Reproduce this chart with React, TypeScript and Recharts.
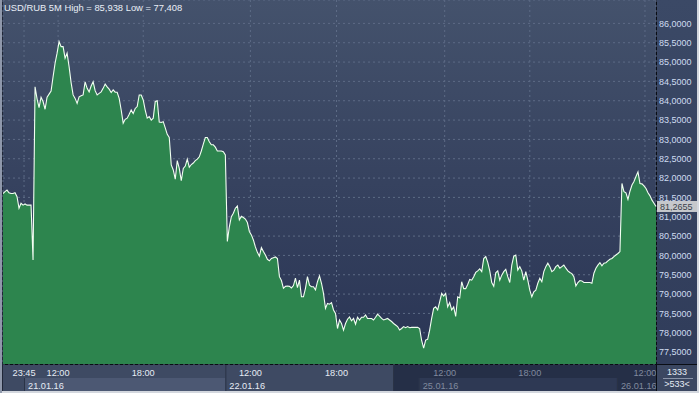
import { AreaChart, Area, XAxis, YAxis, CartesianGrid, ReferenceLine } from "recharts";

// USD/RUB 5-minute closes, one value per slot
const jan21 = [
  81.6, 81.65, 81.69, 81.62, 81.6, 81.6, 81.62, 81.52, 81.22, 81.35,
  81.3, 81.33, 81.3, 81.3, 81.3, 79.88, 84.36, 84.05, 83.82, 84.09,
  83.98, 83.78, 84.09, 84.17, 84.25, 84.62, 84.97, 85.23, 85.53, 85.4,
  85.4, 85.1, 85.23, 84.88, 84.47, 84.15, 84.06, 83.93, 84.1, 84.13,
  84.15, 84.49, 84.32, 84.23, 84.38, 84.49, 84.26, 84.15, 84.19, 84.23,
  84.32, 84.43, 84.36, 84.3,
  84.21, 84.28, 84.22, 84.22, 84.06, 83.76, 83.42, 83.52, 83.55, 83.65,
  83.76, 83.67, 83.8, 83.85, 84.15, 84.15, 84.02, 83.76, 83.55, 83.59,
  83.5, 83.55, 83.98, 84.0, 83.45, 83.44, 83.46, 83.3, 83.13, 83.05,
  82.34, 82.21, 81.97, 82.45, 82.25, 81.93, 82.25, 82.31, 82.49, 82.28,
  82.35, 82.39, 82.45, 82.49, 82.55, 82.7, 82.88, 83.05, 83.05, 82.94,
  82.86, 82.86, 82.8, 82.7, 82.7, 82.7, 82.68, 82.6,
];

const jan22 = [
  80.36, 80.74, 81.0, 81.09, 81.22, 81.28, 80.92, 81.01, 80.98, 80.94,
  80.85, 80.62, 80.53, 80.4, 80.22, 80.08, 79.98, 80.2, 80.1, 80.01,
  79.9, 79.86, 79.92, 79.94, 79.96, 79.92, 79.45, 79.35, 79.15, 79.2,
  79.21, 79.2, 79.16, 79.22, 79.41, 79.17, 79.36, 78.93, 78.93, 79.15,
  79.45, 79.23, 79.19, 79.19, 79.11, 79.32, 79.47, 79.28, 79.02, 78.63,
  78.76, 78.74, 78.78, 78.59, 78.5, 78.11, 78.33, 78.24, 78.07, 78.24,
  78.35, 78.41, 78.31, 78.37, 78.22, 78.4, 78.33, 78.4, 78.4, 78.46,
  78.37, 78.37, 78.37, 78.33, 78.4, 78.48, 78.43, 78.37, 78.33, 78.35,
  78.37, 78.33, 78.29, 78.24, 78.2, 78.16, 78.07, 78.11, 78.16, 78.13,
  78.16, 78.13, 78.14, 78.14, 78.14, 78.14, 78.11,
];

const jan25 = [
  77.8, 77.6, 77.81, 77.83, 78.07, 78.37, 78.63, 78.67, 78.59, 78.8,
  79.02, 78.95, 79.02, 78.67, 78.78, 78.59, 78.67, 78.42, 78.93, 78.9,
  79.32, 79.14, 79.14, 79.25, 79.38, 79.36, 79.45, 79.56, 79.6, 79.65,
  79.58, 79.92, 79.97, 79.82, 79.6, 79.3, 79.2, 79.55, 79.6, 79.36,
  79.49, 79.58, 79.64, 79.45, 79.3, 79.75, 79.98, 80.01, 79.62, 79.71,
  79.6, 79.36, 79.58, 79.36, 79.1, 78.93, 79.06, 79.1, 79.28, 79.41,
  79.32, 79.58, 79.71, 79.8, 79.71, 79.58, 79.62, 79.71, 79.75, 79.67,
  79.71, 79.75, 79.67, 79.6, 79.56, 79.53, 79.45, 79.21, 79.3, 79.35,
  79.34, 79.3, 79.3, 79.3, 79.3, 79.28, 79.54, 79.67, 79.75, 79.81,
  79.73, 79.8, 79.81, 79.86, 79.9, 79.92, 79.97, 80.01, 80.05, 80.1,
];

const jan26 = [
  81.86, 81.65, 81.62, 81.45, 81.66, 81.82, 81.91, 82.04, 82.16, 81.86,
  81.85, 81.8, 81.73, 81.62, 81.54, 81.43, 81.35, 81.2655,
];

const prices = [...jan21, ...jan22, ...jan25, ...jan26];
const data = prices.map((price, slot) => ({ slot, price }));

const timeTicks = [10.5, 27.5, 70, 123.5, 166.5, 220.5, 263, 320.5];
const timeLabels = ["23:45", "12:00", "18:00", "12:00", "18:00", "12:00", "18:00", "12:00"];
const dayTicks = [10.5, 111, 207.5, 306.5];
const dayEnds = [111, 194.7, 306.5, 326];
const dayLabels = ["21.01.16", "22.01.16", "25.01.16", "26.01.16"];
const weekSplit = 194.7;
const priceTicks = [77.5, 78, 78.5, 79, 79.5, 80, 80.5, 81, 81.5, 82, 82.5, 83, 83.5, 84, 84.5, 85, 85.5, 86];
const lastPrice = 81.2655;
const title = "USD/RUB 5M High = 85,938 Low = 77,408";
const barCount = "1333";
const visibleBars = ">533<";

const FONT = "'Liberation Sans', Arial, sans-serif";
const PX = 653 / 326;
const fmt = (v: number) => v.toFixed(4).replace(".", ",");

const TimeTick = (props: any) => {
  const i = timeTicks.indexOf(props.payload.value);
  if (i < 0) return null;
  const dark = timeTicks[i] > weekSplit;
  return (
    <text x={props.x} y={376} textAnchor="middle" fontSize={9.2} fontFamily={FONT}
      fill={dark ? "#808a9e" : "#e6ecf5"} clipPath="url(#axisClip)">
      {timeLabels[i]}
    </text>
  );
};

const DayTick = (props: any) => {
  const i = dayTicks.indexOf(props.payload.value);
  if (i < 0) return null;
  const x = props.x;
  const dark = dayTicks[i] > weekSplit;
  const w = (dayEnds[i] - dayTicks[i]) * PX;
  return (
    <g clipPath="url(#axisClip)">
      {i % 2 === 0 && <rect x={x} y={378} width={w} height={13} fill={dark ? "#2e3954" : "#4c5873"} />}
      <line x1={x + 0.5} x2={x + 0.5} y1={i === 1 ? 365 : 378} y2={391} stroke="#2a3346" />
      <text x={x + 4} y={389} fontSize={9.2} fontFamily={FONT} fill={dark ? "#808a9e" : "#e6ecf5"}>
        {dayLabels[i]}
      </text>
    </g>
  );
};

const PriceTick = (props: any) => (
  <text x={659} y={props.y + 3.3} fontSize={9} fontFamily={FONT} fill="#cfdcf1">
    {fmt(props.payload.value)}
  </text>
);

const LastPriceLabel = (props: any) => {
  const vb = props.viewBox || {};
  const x = vb.x + vb.width + 1;
  const y = vb.y;
  return (
    <g>
      <rect x={x} y={y - 5.5} width={40} height={11} fill="#c6c8cc" />
      <text x={x + 3} y={y + 3.3} fontSize={9} fontFamily={FONT} fill="#3a3f4a">
        {fmt(lastPrice)}
      </text>
    </g>
  );
};

const panel = (style: React.CSSProperties): React.CSSProperties => ({ position: "absolute", ...style });

export default function App() {
  return (
    <div style={{ position: "relative", width: 699, height: 393, background: "#d3d7de", overflow: "hidden", fontFamily: FONT }}>
      <style>{"body{margin:0}"}</style>
      <div style={panel({ left: 0, top: 0, width: 2, height: 393, background: "#8f98ab" })} />
      <div style={panel({ left: 2, top: 0, width: 1, height: 391, background: "#1f2637" })} />
      <div style={panel({ left: 3, top: 0, width: 653, height: 364, background: "linear-gradient(180deg, #44526c 0%, #36425f 50%, #2a3555 100%)" })} />
      <div style={panel({ left: 657, top: 0, width: 40, height: 364, background: "linear-gradient(180deg, #3b4966 0%, #303c5a 100%)" })} />
      <div style={panel({ left: 3, top: 365, width: 390, height: 26, background: "#3e4a63" })} />
      <div style={panel({ left: 393, top: 365, width: 263, height: 26, background: "#252f47" })} />
      <div style={panel({ left: 393, top: 365, width: 1, height: 26, background: "#2a3346" })} />
      <div style={panel({ left: 657, top: 365, width: 40, height: 26, background: "#3b4761" })} />
      <div style={panel({ left: 3, top: 364, width: 694, height: 1, background: "#0a0d14" })} />
      <div style={panel({ left: 656, top: 0, width: 1, height: 391, background: "#0a0d14" })} />
      <div style={panel({ left: 663, top: 378, width: 30, height: 1, background: "#8a94a8" })} />

      <div style={{ position: "absolute", left: 0, top: 0 }}>
        <AreaChart width={699} height={393} data={data} margin={{ top: 0, right: 2, bottom: 2, left: 3 }}>
          <defs>
            <clipPath id="axisClip">
              <rect x={0} y={0} width={656} height={393} />
            </clipPath>
          </defs>
          <CartesianGrid stroke="#5d6b86" strokeDasharray="2 3" />
          <XAxis type="number" dataKey="slot" domain={[0, 326]} ticks={timeTicks} interval={0}
            height={15} axisLine={false} tickLine={false} tick={TimeTick} allowDataOverflow />
          <XAxis xAxisId="day" type="number" dataKey="slot" domain={[0, 326]} ticks={dayTicks} interval={0}
            height={12} axisLine={false} tickLine={false} tick={DayTick} allowDataOverflow />
          <YAxis orientation="right" width={41} type="number" domain={[77.192, 86.605]} ticks={priceTicks}
            interval={0} axisLine={false} tickLine={false} tick={PriceTick} allowDataOverflow />
          <Area type="linear" dataKey="price" stroke="#f2fff2" strokeWidth={1.1} fill="#2d854e" fillOpacity={1}
            dot={false} activeDot={false} isAnimationActive={false} />
          <ReferenceLine y={lastPrice} stroke="none" ifOverflow="visible" label={LastPriceLabel} />
        </AreaChart>
      </div>

      <div style={{ position: "absolute", left: 4, top: 2, fontSize: 9.4, lineHeight: "11px", color: "#e9eef6", whiteSpace: "nowrap" }}>
        {title}
      </div>
      <div style={{ position: "absolute", left: 657, top: 367, width: 40, textAlign: "center", fontSize: 9, lineHeight: "11px", color: "#e6ecf5" }}>
        {barCount}
      </div>
      <div style={{ position: "absolute", left: 657, top: 379, width: 40, textAlign: "center", fontSize: 9, lineHeight: "11px", color: "#e6ecf5" }}>
        {visibleBars}
      </div>
    </div>
  );
}
